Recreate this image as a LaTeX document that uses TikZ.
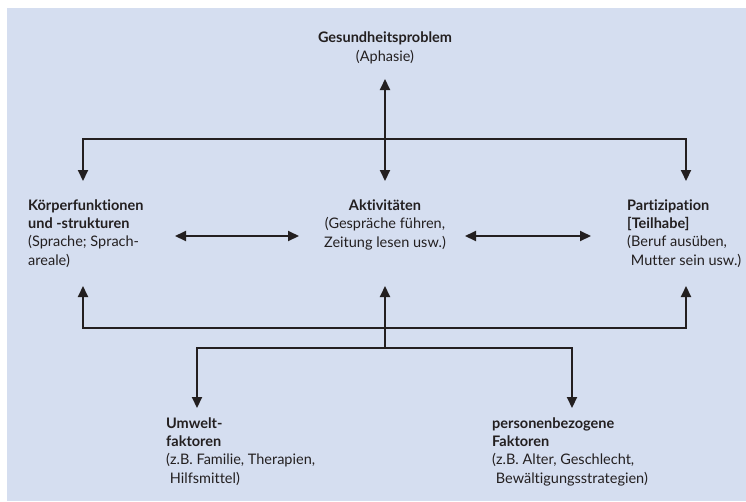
\documentclass[tikz,border=0pt]{standalone}
\usepackage{fontspec}
\setmainfont[Ligatures=NoCommon]{Lato}
\usetikzlibrary{arrows.meta}
\definecolor{bgblue}{RGB}{213,222,240}
\definecolor{ink}{RGB}{35,31,32}
\begin{document}
\begin{tikzpicture}[x=1pt,y=-1pt,
    arr/.style={line width=2pt,draw=ink,arrows={-Triangle[length=11pt,width=10pt]}},
    darr/.style={line width=2pt,draw=ink,arrows={Triangle[length=11pt,width=10pt]-Triangle[length=11pt,width=10pt]}},
    lbl/.style={inner sep=0pt,text=ink,font=\fontsize{14.5}{18.2}\selectfont}]
    \useasboundingbox (0,0) rectangle (746,501);
    \fill[bgblue] (7,8) rectangle (746,501);
    \node[lbl,align=center,anchor=base] (health) at (385,61) {\textbf{Gesundheitsproblem}\\(Aphasie)};
    \node[lbl,align=left,anchor=base west] (body) at (28,265) {\textbf{Körperfunktionen}\\\textbf{und -strukturen}\\(Sprache; Sprach-\\areale)};
    \node[lbl,align=center,anchor=base] (activ) at (385,247) {\textbf{Aktivitäten}\\(Gespräche führen,\\Zeitung lesen usw.)};
    \node[lbl,align=left,anchor=base west] (partic) at (627,265) {\textbf{Partizipation}\\\textbf{[Teilhabe]}\\(Beruf ausüben,\\\ Mutter sein usw.)};
    \node[lbl,align=left,anchor=base west] (env) at (166,483) {\textbf{Umwelt-}\\\textbf{faktoren}\\(z.B. Familie, Therapien,\\\ Hilfsmittel)};
    \node[lbl,align=left,anchor=base west] (pers) at (492,483) {\textbf{personenbezogene}\\\textbf{Faktoren}\\(z.B. Alter, Geschlecht,\\\ Bewältigungsstrategien)};
    \coordinate (topL) at (83,139);
    \coordinate (topR) at (686,139);
    \coordinate (healthB) at (385,79);
    \coordinate (bodyT) at (83,181);
    \coordinate (activT) at (385,181);
    \coordinate (particT) at (686,181);
    \coordinate (bodyE) at (175,236);
    \coordinate (activW) at (299,236);
    \coordinate (activE) at (465,236);
    \coordinate (particW) at (591,236);
    \coordinate (bodyB) at (83,286);
    \coordinate (activB) at (385,286);
    \coordinate (particB) at (686,286);
    \coordinate (botL) at (83,328);
    \coordinate (botR) at (686,328);
    \coordinate (splitM) at (385,348);
    \coordinate (splitL) at (197,348);
    \coordinate (splitR) at (572,348);
    \coordinate (envT) at (197,408);
    \coordinate (persT) at (572,408);
    \draw[darr] (healthB) -- (activT);
    \draw[darr] (bodyT) -- (topL) -- (topR) -- (particT);
    \draw[darr] (bodyE) -- (activW);
    \draw[darr] (activE) -- (particW);
    \draw[darr] (bodyB) -- (botL) -- (botR) -- (particB);
    \draw[arr] (splitM) -- (activB);
    \draw[darr] (envT) -- (splitL) -- (splitR) -- (persT);
\end{tikzpicture}
\end{document}
